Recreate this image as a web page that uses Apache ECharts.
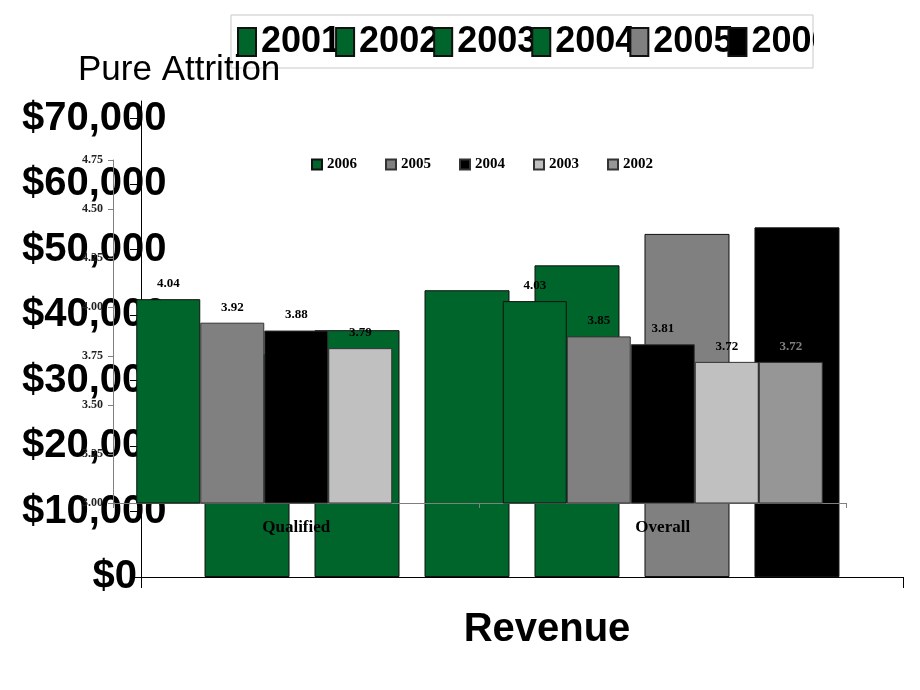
<!DOCTYPE html>
<html><head><meta charset="utf-8">
<script src="https://cdn.jsdelivr.net/npm/echarts@6/dist/echarts.min.js"></script>
<style>html,body{margin:0;padding:0;background:#fff}
#bg,#fg{position:absolute;left:0;top:0;width:920px;height:690px}</style>
</head><body><div id="bg"></div><div id="fg"></div>
<script>
// Background chart: revenue
const revenueCategory = ['Revenue'];
const revenueYears = ['2001', '2002', '2003', '2004', '2005', '2006'];
const revenueValues = [34000, 37700, 43800, 47600, 52400, 53400];
const revenueColors = ['#00652b', '#00652b', '#00652b', '#00652b', '#808080', '#000000'];
const revenueTicks = [0, 10000, 20000, 30000, 40000, 50000, 60000, 70000];

// Foreground chart: pure attrition
const attritionCategories = ['Qualified', 'Overall'];
const attritionYears = ['2006', '2005', '2004', '2003', '2002'];
const att2006 = [4.04, 4.03];
const att2005 = [3.92, 3.85];
const att2004 = [3.88, 3.81];
const att2003 = [3.79, 3.72];
const att2002 = [null, 3.72];
const attritionColors = ['#00652b', '#808080', '#000000', '#c0c0c0', '#969696'];
const attritionTicks = ['3.00', '3.25', '3.50', '3.75', '4.00', '4.25', '4.50', '4.75'];

const SANS = 'Liberation Sans, Arial, sans-serif';
const SERIF = 'Liberation Serif, Times New Roman, serif';

function money(v) {
  return '$' + String(v).replace(/\B(?=(\d{3})+(?!\d))/g, ',');
}

const bg = echarts.init(document.getElementById('bg'));
bg.setOption({
  animation: false,
  backgroundColor: '#fff',
  title: {
    text: 'Pure Attrition', left: 78, top: 53, padding: 0,
    textStyle: { fontFamily: SANS, fontSize: 35, fontWeight: 'normal', color: '#000' }
  },
  legend: {
    data: revenueYears, left: 237, top: 24, padding: 0,
    itemWidth: 18, itemHeight: 28, itemGap: -6, icon: 'rect',
    selectedMode: false, z: 5,
    textStyle: { fontFamily: SANS, fontSize: 36, fontWeight: 'bold', color: '#000' }
  },
  graphic: [
    { type: 'rect', z: 1, shape: { x: 231, y: 15, width: 582, height: 53 },
      style: { fill: 'none', stroke: '#c8c8c8', lineWidth: 1 } },
    { type: 'rect', z: 100, shape: { x: 814, y: 16, width: 40, height: 51 },
      style: { fill: '#fff' } }
  ],
  grid: { left: 141, right: 17, top: 101, bottom: 113 },
  xAxis: {
    type: 'category', data: revenueCategory,
    axisLine: { lineStyle: { color: '#000', width: 1 } },
    axisTick: { show: true, length: 11, lineStyle: { color: '#000' } },
    axisLabel: {
      margin: 33, padding: [0, 0, 0, 50],
      fontFamily: SANS, fontSize: 40, fontWeight: 'bold', color: '#000'
    }
  },
  yAxis: {
    type: 'value', min: 0, max: 72700, interval: 10000,
    splitLine: { show: false },
    axisLine: { show: true, lineStyle: { color: '#000', width: 1 } },
    axisTick: { show: true, length: 11, lineStyle: { color: '#000' }, customValues: revenueTicks },
    axisLabel: {
      customValues: revenueTicks,
      align: 'right', margin: 4,
      fontFamily: SANS, fontSize: 40, fontWeight: 'bold', color: '#000',
      formatter: function (v) {
        return v === 0 ? '{s|' + money(v) + '}' : '{l|' + money(v) + '}';
      },
      rich: {
        s: { fontFamily: SANS, fontSize: 40, fontWeight: 'bold', color: '#000' },
        l: { fontFamily: SANS, fontSize: 40, fontWeight: 'bold', color: '#000', width: 115, align: 'left' }
      }
    }
  },
  series: revenueYears.map(function (y, i) {
    return {
      type: 'bar', name: y, data: [revenueValues[i]],
      barWidth: 85, barGap: '29.4%',
      itemStyle: { color: revenueColors[i], borderColor: '#111', borderWidth: 1 }
    };
  })
});

const attSeriesData = [att2006, att2005, att2004, att2003, att2002];
const fg = echarts.init(document.getElementById('fg'));
fg.setOption({
  animation: false,
  backgroundColor: 'transparent',
  legend: {
    data: attritionYears, left: 311, top: 157, padding: 0,
    itemWidth: 10, itemHeight: 10, itemGap: 28, icon: 'rect', selectedMode: false,
    textStyle: { fontFamily: SERIF, fontSize: 15, fontWeight: 'bold', color: '#000' }
  },
  grid: { left: 113, right: 74, top: 160, bottom: 187 },
  xAxis: {
    type: 'category', data: attritionCategories,
    axisLine: { lineStyle: { color: '#808080', width: 1 } },
    axisTick: { show: true, length: 5, lineStyle: { color: '#808080' } },
    axisLabel: { margin: 16, fontFamily: SERIF, fontSize: 17, fontWeight: 'bold', color: '#000' }
  },
  yAxis: {
    type: 'value', min: 3, max: 4.75, interval: 0.25,
    splitLine: { show: false },
    axisLine: { show: true, lineStyle: { color: '#808080', width: 1 } },
    axisTick: { show: true, length: 5, lineStyle: { color: '#808080' } },
    axisLabel: {
      margin: 10, fontFamily: SERIF, fontSize: 12, fontWeight: 'bold', color: '#222',
      formatter: function (v) {
        const idx = Math.round((v - 3) / 0.25);
        return attritionTicks[idx] !== undefined ? attritionTicks[idx] : v.toFixed(2);
      }
    }
  },
  series: attritionYears.map(function (y, i) {
    return {
      type: 'bar', name: y, data: attSeriesData[i],
      barWidth: 64, barGap: '0%',
      itemStyle: { color: attritionColors[i], borderColor: i === 0 ? '#111' : '#333', borderWidth: 1 },
      label: {
        show: true, position: 'top', distance: 9,
        fontFamily: SERIF, fontSize: 13, fontWeight: 'bold',
        color: i === 4 ? '#808080' : '#000',
        formatter: function (p) { return p.value == null ? '' : p.value.toFixed(2); }
      }
    };
  })
});
</script></body></html>
